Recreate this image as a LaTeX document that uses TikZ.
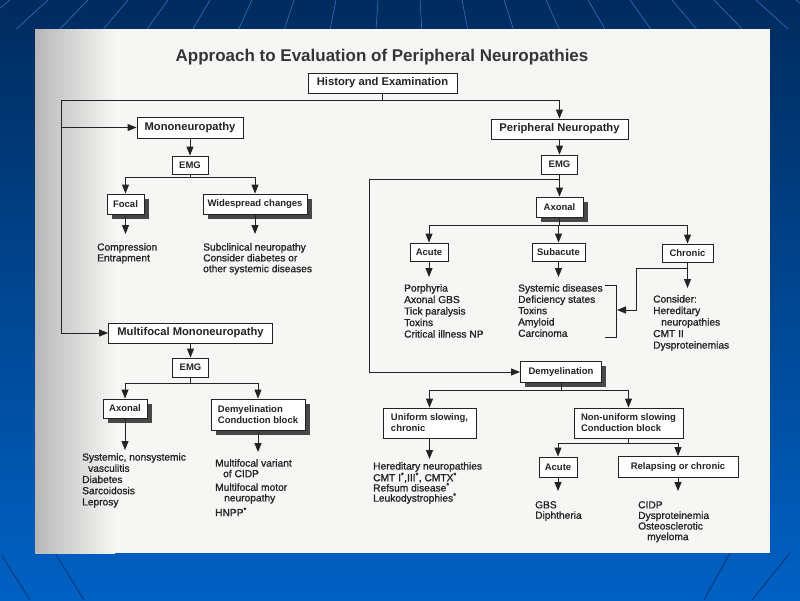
\documentclass[tikz,border=0pt]{standalone}
\usepackage{fontspec}
\setmainfont{Liberation Sans}
\newfontfamily\listf[FakeBold=1]{Liberation Sans}
\usetikzlibrary{arrows.meta,shadows}
\definecolor{ink}{HTML}{232323}
\definecolor{pagec}{HTML}{F6F6F4}
\definecolor{bgtop}{HTML}{002B5E}
\definecolor{bgbot}{HTML}{0061C4}
\definecolor{bglight}{HTML}{3A7CD4}
\definecolor{bgdark}{HTML}{0A2F66}
\begin{document}
\begin{tikzpicture}[x=1pt,y=-1pt,
  ln/.style={draw=ink,line width=0.9pt},
  arr/.style={ln,-{Triangle[length=9pt,width=7pt]}},
  bx/.style 2 args={draw=ink,line width=0.9pt,fill=white,text=ink,inner sep=0pt,
     minimum width=#1pt,minimum height=#2pt,
     font=\fontsize{9.5}{11}\selectfont\bfseries,align=center},
  big/.style={font=\fontsize{11.2}{13}\selectfont\bfseries},
  bxl/.style 2 args={bx={#1}{#2},align=left},
  sh/.style={drop shadow={shadow xshift=4.5pt,shadow yshift=-4.5pt,fill=black!72,opacity=1}},
  lst/.style={anchor=north west,inner sep=0pt,text=ink,align=left,
     font=\listf\fontsize{10.2}{#1}\selectfont},
  bgline/.style={draw=bglight,line width=0.5pt},
  bgdline/.style={draw=bgdark,line width=0.7pt}
]
\useasboundingbox (0,0) rectangle (800,600);
% background
\shade[top color=bgtop,bottom color=bgbot] (0,0) rectangle (800,600);
\foreach \x in {10,48,88,128,168,210,252,294,336,378,420,462,504,546,588,630,672,714,756,796}
  \draw[bgline] (\x,0) -- ({\x+(\x-400)*0.09},29);
\draw[bgdline] (55,553) -- (84,600);
\draw[bgdline] (2,556) -- (30,600);
\draw[bgdline] (730,553) -- (704,600);
\draw[bgdline] (790,553) -- (752,600);
% page
\fill[pagec] (35,29) rectangle (770,553);
\shade[left color=black!28,right color=pagec] (35,29) rectangle (115,553);

% title
\node[anchor=base,text=ink!92,font=\fontsize{17}{20}\selectfont\bfseries] (title) at (382,61.5)
  {Approach to Evaluation of Peripheral Neuropathies};

% boxes
\node[bx={149}{20},big] (he) at (382.5,83) {History and Examination};
\node[bx={106}{21},big] (mono) at (190,127.5) {Mononeuropathy};
\node[bx={36}{18}] (emga) at (190,165) {EMG};
\node[bx={37}{20},sh] (focal) at (125.5,204) {Focal};
\node[bx={104}{20},sh] (wide) at (255,204) {Widespread changes};
\node[bx={164}{20},big] (mm) at (190.5,333) {Multifocal Mononeuropathy};
\node[bx={36}{19}] (emgb) at (190.5,367.5) {EMG};
\node[bx={44}{19},sh] (axl) at (125,408.5) {Axonal};
\node[bxl={94}{31},sh] (dml) at (258,414.5) {Demyelination\\Conduction block};

\node[bx={137}{20},big] (pn) at (559.5,129) {Peripheral Neuropathy};
\node[bx={36}{19}] (emgc) at (559.5,164.5) {EMG};
\node[bx={47}{20},sh] (axr) at (559.5,207) {Axonal};
\node[bx={38}{18}] (acu) at (429,252) {Acute};
\node[bx={53}{18}] (sub) at (558.5,252) {Subacute};
\node[bx={51}{18}] (chr) at (687.5,253) {Chronic};
\node[bx={81}{21},sh] (dmr) at (561,372) {Demyelination};
\node[bxl={93}{30}] (uni) at (429.5,423) {Uniform slowing,\\chronic};
\node[bxl={109}{30}] (non) at (628.5,423) {Non-uniform slowing\\Conduction block};
\node[bx={38}{20}] (acub) at (558,467) {Acute};
\node[bx={120}{21}] (rel) at (678,467) {Relapsing or chronic};

% text lists
\node[lst=10.8] (l1) at (97,243) {Compression\\Entrapment};
\node[lst=10.8] (l2) at (203,243) {Subclinical neuropathy\\Consider diabetes or\\other systemic diseases};
\node[lst=11.2] (l3) at (82,453) {Systemic, nonsystemic\\\hspace*{6pt}vasculitis\\Diabetes\\Sarcoidosis\\Leprosy};
\node[lst=10.6] (l4) at (215,459) {Multifocal variant\\\hspace*{8pt}of CIDP\\[3pt]Multifocal motor\\\hspace*{9pt}neuropathy\\[3pt]HNPP\textsuperscript{*}};
\node[lst=11.5] (l5) at (404,284) {Porphyria\\Axonal GBS\\Tick paralysis\\Toxins\\Critical illness NP};
\node[lst=11.3] (l6) at (518,284) {Systemic diseases\\Deficiency states\\Toxins\\Amyloid\\Carcinoma};
\node[lst=11.5] (l7) at (653,295) {Consider:\\Hereditary\\\hspace*{8pt}neuropathies\\CMT II\\Dysproteinemias};
\node[lst=10.2] (l8) at (373,462) {Hereditary neuropathies\\CMT I\textsuperscript{*},III\textsuperscript{*}, CMTX\textsuperscript{*}\\Refsum disease\textsuperscript{*}\\Leukodystrophies\textsuperscript{*}};
\node[lst=10.4] (l9) at (535,501) {GBS\\Diphtheria};
\node[lst=10.6] (l10) at (638,501) {CIDP\\Dysproteinemia\\Osteosclerotic\\\hspace*{9pt}myeloma};

% junction and tip coordinates
\coordinate (j0) at (382.5,100);
\coordinate (lb) at (61,333);
\coordinate (lm) at (61,127.5);
\coordinate (sa) at (190,177);
\coordinate (tfocal) at (125.5,234);
\coordinate (twide) at (255,234);
\coordinate (sb) at (190.5,383);
\coordinate (taxl) at (125,450);
\coordinate (tdml) at (258,452);
\coordinate (jr) at (559.5,179);
\coordinate (lr) at (369,372);
\coordinate (sc) at (559.5,225);
\coordinate (tacu) at (429,277);
\coordinate (tsub) at (558.5,277);
\coordinate (cj) at (687.5,268);
\coordinate (tchr) at (687.5,288);
\coordinate (ck) at (636,310);
\coordinate (bm) at (617,310);
\coordinate (bt0) at (605,285);
\coordinate (bt1) at (616,285);
\coordinate (bb1) at (616,337);
\coordinate (bb0) at (605,337);
\coordinate (sd) at (561,390);
\coordinate (tuni) at (429.5,459);
\coordinate (se) at (628.5,443);
\coordinate (tacub) at (558,491);
\coordinate (trel) at (678,491);

% connectors
\draw[ln] (he.south) -- (j0);
\draw[arr] (j0) -| (pn.north);
\draw[arr] (j0) -| (lb) -- (mm.west);
\draw[arr] (lm) -- (mono.west);
\draw[arr] (mono) -- (emga);
\draw[ln] (emga.south) -- (sa);
\draw[arr] (sa) -| (focal.north);
\draw[arr] (sa) -| (wide.north);
\draw[arr] (focal.south) -- (tfocal);
\draw[arr] (wide.south) -- (twide);
\draw[arr] (mm) -- (emgb);
\draw[ln] (emgb.south) -- (sb);
\draw[arr] (sb) -| (axl.north);
\draw[arr] (sb) -| (dml.north);
\draw[arr] (axl.south) -- (taxl);
\draw[arr] (dml.south) -- (tdml);

\draw[arr] (pn) -- (emgc);
\draw[arr] (emgc) -- (axr);
\draw[arr] (jr) -| (lr) -- (dmr.west);
\draw[ln] (axr.south) -- (sc);
\draw[arr] (sc) -| (acu.north);
\draw[arr] (sc) -| (sub.north);
\draw[arr] (sc) -| (chr.north);
\draw[arr] (acu.south) -- (tacu);
\draw[arr] (sub.south) -- (tsub);
\draw[ln] (chr.south) -- (cj);
\draw[arr] (cj) -- (tchr);
\draw[arr] (cj) -| (ck) -- (bm);
\draw[ln] (bt0) -- (bt1) -- (bb1) -- (bb0);
\draw[ln] (dmr.south) -- (sd);
\draw[arr] (sd) -| (uni.north);
\draw[arr] (sd) -| (non.north);
\draw[arr] (uni.south) -- (tuni);
\draw[ln] (non.south) -- (se);
\draw[arr] (se) -| (acub.north);
\draw[arr] (se) -| (rel.north);
\draw[arr] (acub.south) -- (tacub);
\draw[arr] (rel.south) -- (trel);
\end{tikzpicture}
\end{document}
